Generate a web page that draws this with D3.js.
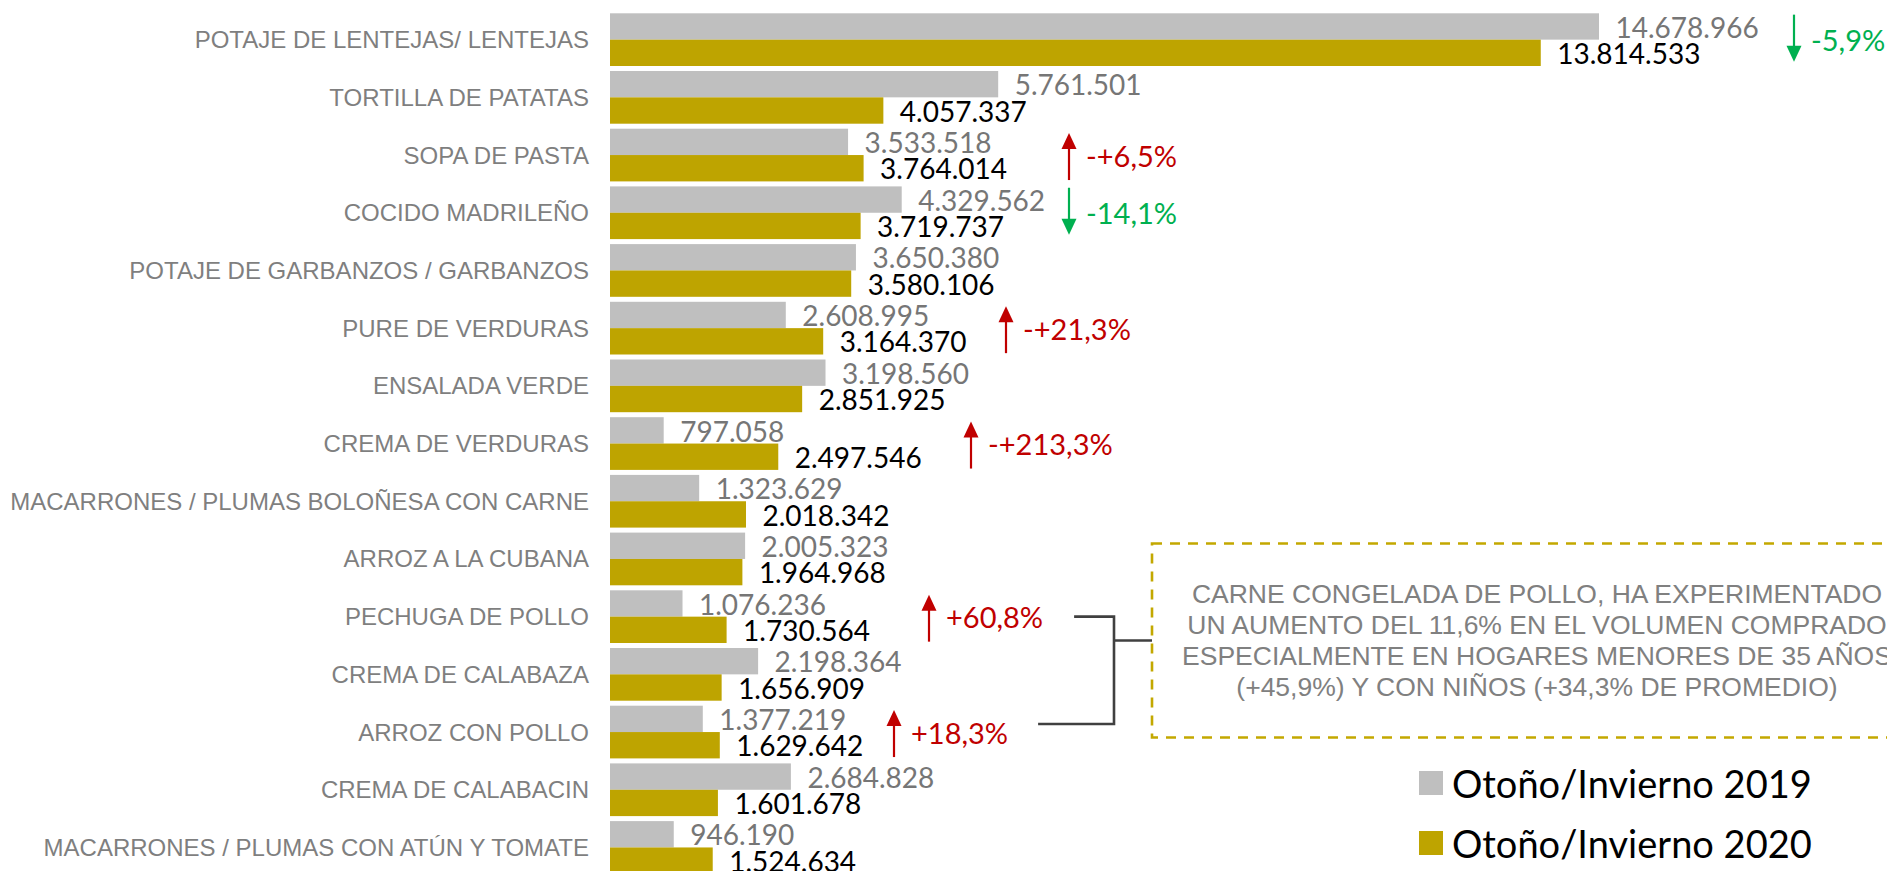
<!DOCTYPE html>
<html>
<head>
<meta charset="utf-8">
<script src="https://cdn.jsdelivr.net/npm/d3@7"></script>
<style>
  body { margin: 0; background: #ffffff; }
  svg { display: block; }
</style>
</head>
<body>
<div id="chart-container"></div>
<script>
// Data
const categories = [
    "POTAJE DE LENTEJAS/ LENTEJAS",
    "TORTILLA DE PATATAS",
    "SOPA DE PASTA",
    "COCIDO MADRILEÑO",
    "POTAJE DE GARBANZOS / GARBANZOS",
    "PURE DE VERDURAS",
    "ENSALADA VERDE",
    "CREMA DE VERDURAS",
    "MACARRONES / PLUMAS BOLOÑESA CON CARNE",
    "ARROZ A LA CUBANA",
    "PECHUGA DE POLLO",
    "CREMA DE CALABAZA",
    "ARROZ CON POLLO",
    "CREMA DE CALABACIN",
    "MACARRONES / PLUMAS CON ATÚN Y TOMATE"
];
const values2019 = [14678966, 5761501, 3533518, 4329562, 3650380, 2608995, 3198560, 797058,
                    1323629, 2005323, 1076236, 2198364, 1377219, 2684828, 946190];
const values2020 = [13814533, 4057337, 3764014, 3719737, 3580106, 3164370, 2851925, 2497546,
                    2018342, 1964968, 1730564, 1656909, 1629642, 1601678, 1524634];
const seriesNames = ["Otoño/Invierno 2019", "Otoño/Invierno 2020"];

// change call-outs: category, label, direction
const changeCats = [0, 2, 3, 5, 7, 10, 12];
const changeLabels = ["-5,9%", "-+6,5%", "-14,1%", "-+21,3%", "-+213,3%", "+60,8%", "+18,3%"];
const changeDirs = ["down", "up", "down", "up", "up", "up", "up"];

const noteLines = [
    "CARNE CONGELADA DE POLLO, HA EXPERIMENTADO",
    "UN AUMENTO DEL 11,6% EN EL VOLUMEN COMPRADO",
    "ESPECIALMENTE EN HOGARES MENORES DE 35 AÑOS",
    "(+45,9%) Y CON NIÑOS (+34,3% DE PROMEDIO)"
];

// layout (hand placed arrows in the original)
const arrowX = [1794, 1069, 1069, 1006, 971, 929, 894];

const width = 1887;
const height = 871;
const colors = ["#bfbfbf", "#bea400"];
const labelColors = ["#767676", "#000000"];
const numFont = "Lato, 'Open Sans', sans-serif";
const catFont = "'Liberation Sans', Arial, sans-serif";

const es = d3.formatLocale({ decimal: ",", thousands: ".", grouping: [3], currency: ["", "€"] });
const fmt = es.format(",d");

const svg = d3.select('#chart-container').append('svg')
    .attr('width', width)
    .attr('height', height);

const x = d3.scaleLinear().domain([0, 14678966]).range([610, 1599]);
const y = d3.scaleBand().domain(categories).range([10.8, 876.3])
    .paddingInner(0.0867).paddingOuter(0.0433);
const ySub = d3.scaleBand().domain([0, 1]).range([0, y.bandwidth()]);

const rows = categories.map((c, i) => ({ cat: c, vals: [values2019[i], values2020[i]] }));

// category labels
svg.append('g').selectAll('text')
    .data(categories)
    .join('text')
    .attr('x', 589)
    .attr('y', d => y(d) + y.bandwidth() / 2)
    .attr('text-anchor', 'end')
    .attr('dominant-baseline', 'central')
    .style('font-family', catFont)
    .style('font-size', '24px')
    .style('fill', '#7f7f7f')
    .text(d => d);

// bars + value labels
const groups = svg.append('g').selectAll('g')
    .data(rows)
    .join('g')
    .attr('transform', d => `translate(0,${y(d.cat)})`);

groups.selectAll('rect')
    .data(d => d.vals)
    .join('rect')
    .attr('x', x(0))
    .attr('y', (d, i) => ySub(i))
    .attr('width', d => x(d) - x(0))
    .attr('height', ySub.bandwidth())
    .attr('fill', (d, i) => colors[i]);

groups.selectAll('text')
    .data(d => d.vals)
    .join('text')
    .attr('x', d => x(d) + 16.5)
    .attr('y', (d, i) => ySub(i) + ySub.bandwidth() - 2)
    .style('font-family', numFont)
    .style('font-size', '28px')
    .style('fill', (d, i) => labelColors[i])
    .text(d => fmt(d));

// change arrows and percentages
const changes = changeCats.map((c, i) => ({ cat: categories[c], label: changeLabels[i], dir: changeDirs[i], ax: arrowX[i] }));

const chg = svg.append('g').selectAll('g')
    .data(changes)
    .join('g')
    .attr('transform', d => `translate(${d.ax},${y(d.cat) + y.bandwidth() / 2})`);

chg.each(function(d) {
    const g = d3.select(this);
    const col = d.dir === "up" ? "#c00000" : "#00b050";
    const top = d.dir === "up" ? -22 : -25;
    const bot = d.dir === "up" ? 25 : 22;
    const head = 16;
    if (d.dir === "up") {
        g.append('line').attr('x1', 0).attr('x2', 0).attr('y1', top + head - 1).attr('y2', bot)
            .attr('stroke', col).attr('stroke-width', 2.2);
        g.append('path').attr('d', `M-7.5,${top + head}L0,${top}L7.5,${top + head}Z`).attr('fill', col);
    } else {
        g.append('line').attr('x1', 0).attr('x2', 0).attr('y1', top).attr('y2', bot - head + 1)
            .attr('stroke', col).attr('stroke-width', 2.2);
        g.append('path').attr('d', `M-7.5,${bot - head}L0,${bot}L7.5,${bot - head}Z`).attr('fill', col);
    }
    g.append('text')
        .attr('class', 'pct')
        .attr('x', 17)
        .attr('y', 0)
        .attr('dominant-baseline', 'central')
        .style('font-family', numFont)
        .style('font-size', '29px')
        .style('fill', col)
        .text(d.label);
});

// note box
const boxX = 1152, boxTop = 543.5, boxBottom = 737.5, boxRight = 1922;
const boxMid = (boxTop + boxBottom) / 2;
svg.append('rect')
    .attr('x', boxX)
    .attr('y', boxTop)
    .attr('width', boxRight - boxX)
    .attr('height', boxBottom - boxTop)
    .attr('fill', 'none')
    .attr('stroke', '#c3a800')
    .attr('stroke-width', 2.6)
    .attr('stroke-dasharray', '10,8');

svg.append('g').selectAll('text')
    .data(noteLines)
    .join('text')
    .attr('x', (boxX + boxRight) / 2)
    .attr('y', (d, i) => boxMid + (i - 1.5) * 31.3)
    .attr('text-anchor', 'middle')
    .attr('dominant-baseline', 'central')
    .style('font-family', catFont)
    .style('font-size', '26.5px')
    .style('fill', '#808080')
    .text(d => d);

// bracket linking the chicken rows to the note
const pctNodes = chg.selectAll('text.pct').nodes();
const endOf = i => {
    const n = pctNodes[i];
    return changes[i].ax + 17 + n.getComputedTextLength();
};
const iPechuga = changeCats.indexOf(10), iArroz = changeCats.indexOf(12);
const yP = y(categories[10]) + y.bandwidth() / 2;
const yA = y(categories[12]) + y.bandwidth() / 2 - 8;
const bx = 1114;
svg.append('path')
    .attr('d', `M${endOf(iPechuga) + 31},${yP}H${bx}V${yA}H${endOf(iArroz) + 30}M${bx},${boxMid}H${boxX}`)
    .attr('fill', 'none')
    .attr('stroke', '#404040')
    .attr('stroke-width', 2.6);

// legend
const legend = svg.append('g').selectAll('g')
    .data(seriesNames)
    .join('g')
    .attr('transform', (d, i) => `translate(1419,${771 + i * 60})`);
legend.append('rect')
    .attr('width', 24).attr('height', 24)
    .attr('fill', (d, i) => colors[i]);
legend.append('text')
    .attr('x', 33)
    .attr('y', 12)
    .attr('dominant-baseline', 'central')
    .style('font-family', numFont)
    .style('font-size', '38px')
    .style('fill', '#000')
    .text(d => d);
</script>
</body>
</html>
